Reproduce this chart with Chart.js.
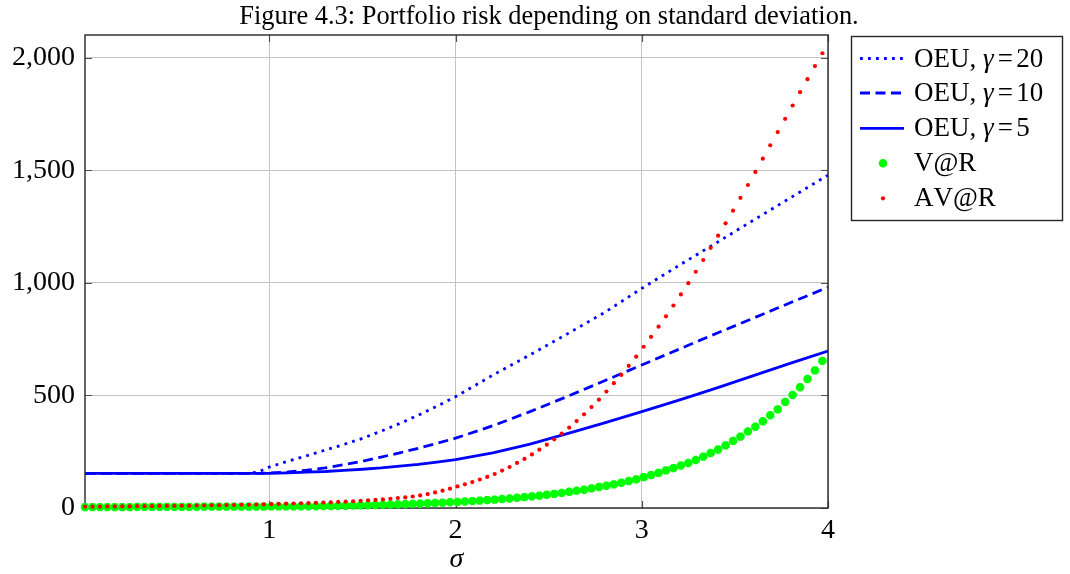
<!DOCTYPE html>
<html>
<head>
<meta charset="utf-8">
<script src="https://cdn.jsdelivr.net/npm/chart.js@4.4.1/dist/chart.umd.min.js"></script>
<style>
  html, body { margin: 0; padding: 0; background: #ffffff; }
  #wrap { width: 1070px; height: 574px; position: relative; }
</style>
</head>
<body>
<div id="wrap"><canvas id="c" width="1070" height="574"></canvas></div>
<script>
// Sample points in sigma used for the V@R / AV@R markers
const sigma = [
  0.01,0.05,0.09,0.13,0.17,0.21,0.25,0.29,0.33,0.37,
  0.41,0.45,0.49,0.53,0.57,0.61,0.65,0.69,0.73,0.77,
  0.81,0.85,0.89,0.93,0.97,1.01,1.05,1.09,1.13,1.17,
  1.21,1.25,1.29,1.33,1.37,1.41,1.45,1.49,1.53,1.57,
  1.61,1.65,1.69,1.73,1.77,1.81,1.85,1.89,1.93,1.97,
  2.01,2.05,2.09,2.13,2.17,2.21,2.25,2.29,2.33,2.37,
  2.41,2.45,2.49,2.53,2.57,2.61,2.65,2.69,2.73,2.77,
  2.81,2.85,2.89,2.93,2.97,3.01,3.05,3.09,3.13,3.17,
  3.21,3.25,3.29,3.33,3.37,3.41,3.45,3.49,3.53,3.57,
  3.61,3.65,3.69,3.73,3.77,3.81,3.85,3.89,3.93,3.97
];
const varValues = [
  4,4,4,4,4,4,4,5,5,5,
  5,5,5,5,5,5,6,6,6,6,
  6,6,6,6,6,7,7,7,7,7,
  7.5,8,8.5,9,9.6,10.2,10.9,11.6,12.4,13.2,
  14.1,15.1,16.1,17.1,18.3,19.5,20.8,22.2,23.7,25.3,
  27,28.8,30.7,32.8,35,37.3,39.8,42.5,45.3,48.4,
  51.6,55,58.7,62.7,67,72,77,81,87,93,
  99,105,112,120,127,137,146,156,167,177,
  189,200,213,228,244,260,278,298,317,340,
  361,385,412,438,471,502,536,573,611,653
];
const avarValues = [
  6,6,6,7,7,7,7,8,8,8,
  9,9,9,10,10,11,11,12,12,13,
  13,14,14,15,16,17,18,19,20,21,
  22,23,24,25,27,28,30,32,34,36,
  38,41,44,47,51,56,62,69,77,86,
  96,105,115,126,138,151,166,182,200,218,
  238,259,281,305,330,357,386,416,448,481,
  517,554,591,631,672,716,760,805,851,899,
  948,998,1049,1101,1155,1209,1264,1320,1377,1434,
  1492,1551,1610,1669,1728,1787,1846,1904,1962,2019
];

// Sample points in sigma for the OEU curves
const oeuSigma = [0.01,0.5,0.9,0.95,1.0,1.1,1.2,1.3,1.4,1.5,1.6,1.7,1.8,1.9,2.0,2.2,2.4,2.6,2.8,3.0,3.2,3.4,3.6,3.8,4.0];
const oeuGamma20 = [154,154,154,163,182,208,232,257,282,309,341,375,412,452,494,590,680,773,868,975,1077,1177,1278,1378,1478];
const oeuGamma10 = [154,154,154,154,156,160,168,178,192,208,226,245,265,287,310,365,428,495,565,635,705,775,843,912,980];
const oeuGamma5  = [154,154,154,154,154,156,159,162,167,172,178,186,194,204,215,245,284,330,378,428,479,532,588,643,697];

const seriesLabels = ['OEU, γ=20', 'OEU, γ=10', 'OEU, γ=5', 'V@R', 'AV@R'];
const xTickValues = [1, 2, 3, 4];
const yTickValues = [0, 500, 1000, 1500, 2000];
const yTickLabels = ['0', '500', '1,000', '1,500', '2,000'];
const titleText = 'Figure 4.3: Portfolio risk depending on standard deviation.';
const xAxisTitle = 'σ';

const SERIF = "'Liberation Serif', 'Times New Roman', serif";
const BLUE = '#0000ff', GREEN = '#00ff00', RED = '#ff0000';

const toPoints = (xs, ys) => xs.map((x, i) => ({ x, y: ys[i] }));

const datasets = [
  { label: seriesLabels[0], data: toPoints(oeuSigma, oeuGamma20), showLine: true, borderColor: BLUE,
    borderWidth: 2.8, borderDash: [2.8, 5.2], pointRadius: 0, order: 3, tension: 0 },
  { label: seriesLabels[1], data: toPoints(oeuSigma, oeuGamma10), showLine: true, borderColor: BLUE,
    borderWidth: 2.8, borderDash: [10, 5.5], pointRadius: 0, order: 4, tension: 0 },
  { label: seriesLabels[2], data: toPoints(oeuSigma, oeuGamma5), showLine: true, borderColor: BLUE,
    borderWidth: 2.8, pointRadius: 0, order: 5, tension: 0 },
  { label: seriesLabels[3], data: toPoints(sigma, varValues), showLine: false, pointStyle: 'star',
    pointRadius: 4.2, borderWidth: 3, borderColor: GREEN, backgroundColor: GREEN, order: 2, clip: false },
  { label: seriesLabels[4], data: toPoints(sigma, avarValues), showLine: false, pointStyle: 'circle',
    pointRadius: 2.1, borderWidth: 0, backgroundColor: RED, borderColor: RED, order: 1, clip: false }
];

// Frame and inner tick marks of the plot box
const framePlugin = {
  id: 'frame',
  beforeDatasetsDraw(chart) {
    const { ctx, chartArea: a, scales } = chart;
    ctx.save();
    ctx.strokeStyle = '#505050';
    ctx.lineWidth = 1.2;
    const tl = 7;
    ctx.beginPath();
    xTickValues.forEach(v => {
      const x = Math.round(scales.x.getPixelForValue(v)) + 0.5;
      ctx.moveTo(x, a.bottom); ctx.lineTo(x, a.bottom - tl);
      ctx.moveTo(x, a.top); ctx.lineTo(x, a.top + tl);
    });
    yTickValues.forEach(v => {
      const y = Math.round(scales.y.getPixelForValue(v)) + 0.5;
      ctx.moveTo(a.left, y); ctx.lineTo(a.left + tl, y);
      ctx.moveTo(a.right, y); ctx.lineTo(a.right - tl, y);
    });
    ctx.stroke();
    ctx.strokeStyle = '#262626';
    ctx.lineWidth = 1.4;
    ctx.strokeRect(a.left, a.top, a.right - a.left, a.bottom - a.top);
    ctx.restore();
  }
};

// Writes a label, setting the Greek letter in italics and spacing the '=' sign
function drawRichLabel(ctx, text, x, y, size) {
  let cx = x;
  for (const ch of text) {
    if (ch === 'γ') {
      ctx.font = `italic ${size}px ${SERIF}`;
      ctx.fillText(ch, cx, y);
      cx += ctx.measureText(ch).width + 1;
    } else if (ch === '=') {
      ctx.font = `${size}px ${SERIF}`;
      cx += size * 0.12;
      ctx.fillText(ch, cx, y);
      cx += ctx.measureText(ch).width + size * 0.12;
    } else {
      ctx.font = `${size}px ${SERIF}`;
      ctx.fillText(ch, cx, y);
      cx += ctx.measureText(ch).width;
    }
  }
}

// Title above the plot and the boxed legend on the right
const decorPlugin = {
  id: 'decor',
  afterDraw(chart) {
    const { ctx } = chart;
    ctx.save();
    ctx.fillStyle = '#000';
    ctx.font = `26.4px ${SERIF}`;
    ctx.textAlign = 'center';
    ctx.textBaseline = 'alphabetic';
    ctx.fillText(titleText, 549, 24);

    // legend box
    const bx = 851.5, by = 36.5, bw = 211, bh = 184;
    ctx.fillStyle = '#fff';
    ctx.fillRect(bx, by, bw, bh);
    ctx.strokeStyle = '#262626';
    ctx.lineWidth = 1.4;
    ctx.strokeRect(bx, by, bw, bh);

    const rowY = [58.5, 93, 128.3, 163.3, 198.3];
    chart.data.datasets.forEach((ds, i) => {
      const y = rowY[i];
      ctx.save();
      ctx.fillStyle = ds.backgroundColor || ds.borderColor;
      ctx.strokeStyle = ds.borderColor;
      ctx.lineWidth = ds.borderWidth;
      if (ds.showLine) {
        ctx.setLineDash(ds.borderDash || []);
        ctx.beginPath();
        ctx.moveTo(860, y); ctx.lineTo(904, y);
        ctx.stroke();
      } else {
        Chart.helpers.drawPoint(ctx, {
          pointStyle: ds.pointStyle, radius: ds.pointRadius, borderWidth: ds.borderWidth, rotation: 0
        }, 883, y);
      }
      ctx.restore();
      ctx.fillStyle = '#000';
      ctx.textAlign = 'left';
      ctx.textBaseline = 'alphabetic';
      drawRichLabel(ctx, ds.label, 914, y + 8, 27);
    });
    ctx.restore();
  }
};

Chart.defaults.font.family = SERIF;
Chart.defaults.color = '#000';

new Chart(document.getElementById('c'), {
  type: 'scatter',
  data: { datasets },
  options: {
    responsive: false,
    animation: false,
    devicePixelRatio: 1,
    layout: { padding: { top: 35, right: 242, left: 0, bottom: 0 } },
    plugins: { legend: { display: false }, title: { display: false }, tooltip: { enabled: false } },
    elements: { line: { borderCapStyle: 'butt' } },
    scales: {
      x: {
        type: 'linear', min: 0.01, max: 4,
        afterBuildTicks: s => { s.ticks = xTickValues.map(v => ({ value: v })); },
        afterFit: s => { s.height = 66; },
        ticks: { font: { size: 28 }, padding: 6, maxRotation: 0, callback: v => String(v) },
        grid: { color: '#c4c4c4', lineWidth: 1, drawTicks: false },
        border: { display: false },
        title: { display: true, text: xAxisTitle, font: { size: 28, style: 'italic', lineHeight: 1.0 }, padding: 0 }
      },
      y: {
        type: 'linear', min: 0, max: 2100,
        afterBuildTicks: s => { s.ticks = yTickValues.map(v => ({ value: v })); },
        afterFit: s => { s.width = 85; },
        ticks: { font: { size: 28 }, padding: 10, callback: v => yTickLabels[yTickValues.indexOf(v)] },
        grid: { color: '#c4c4c4', lineWidth: 1, drawTicks: false },
        border: { display: false }
      }
    }
  },
  plugins: [framePlugin, decorPlugin]
});
</script>
</body>
</html>
